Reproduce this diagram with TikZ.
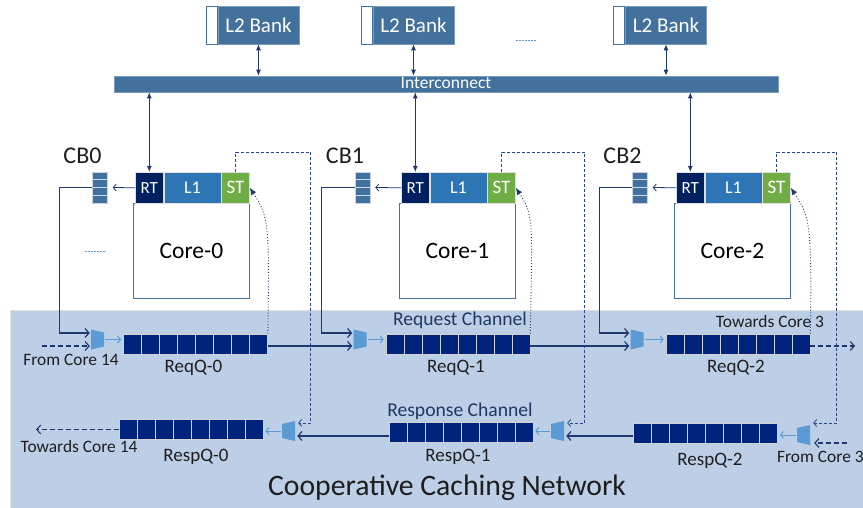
\documentclass[tikz,border=0pt]{standalone}
\usepackage{fontspec}
\setmainfont{Carlito}
\usetikzlibrary{arrows.meta,calc}
\definecolor{bankblue}{RGB}{65,113,156}
\definecolor{rtnavy}{RGB}{0,32,96}
\definecolor{qnavy}{RGB}{0,36,125}
\definecolor{lonecol}{RGB}{46,117,182}
\definecolor{stgreen}{RGB}{112,173,71}
\definecolor{muxblue}{RGB}{91,155,213}
\definecolor{panelc}{RGB}{189,207,231}
\definecolor{linenavy}{RGB}{31,56,110}
\definecolor{dashnavy}{RGB}{40,70,140}
\definecolor{labnavy}{RGB}{31,56,100}
\definecolor{txtc}{RGB}{30,30,30}
\newcommand{\fsz}[1]{\fontsize{#1}{#1}\selectfont}
\begin{document}
\begin{tikzpicture}[x=1pt,y=-1pt,
  bank/.style={rectangle, fill=bankblue, draw=bankblue!70!white, line width=0.6pt, inner sep=0pt, minimum width=81pt, minimum height=38pt, text=white, font=\fsz{21}},
  banktab/.style={rectangle, fill=white, draw=bankblue, line width=0.8pt, inner sep=0pt, minimum width=11pt, minimum height=38pt},
  icbar/.style={rectangle, fill=bankblue, draw=bankblue!70!white, line width=0.6pt, inner sep=0pt, minimum width=664pt, minimum height=16pt, text height=12pt, text depth=3pt, text=white, font=\fsz{17.5}},
  cell/.style={rectangle, draw=white!75!gray, line width=0.6pt, inner sep=0pt, minimum height=31pt, text=white, anchor=north west},
  corebox/.style={rectangle, draw=bankblue, line width=0.8pt, fill=white, inner sep=0pt, minimum width=116pt, minimum height=95pt, anchor=north west, font=\fsz{23.5}},
  cbstack/.style={rectangle, fill=bankblue, draw=white!70!bankblue, line width=0.5pt, inner sep=0pt, minimum width=15pt, minimum height=31pt,
    path picture={\foreach \k in {1,2,3} \draw[white!75!bankblue, line width=0.6pt] ($(path picture bounding box.north west)!\k/4!(path picture bounding box.south west)$) -- ($(path picture bounding box.north east)!\k/4!(path picture bounding box.south east)$);}},
  queue/.style={rectangle, fill=qnavy, draw=white!65!gray, line width=0.6pt, inner sep=0pt, minimum width=144pt, minimum height=20pt,
    path picture={\foreach \k in {1,...,7} \draw[white!65!gray, line width=0.6pt] ($(path picture bounding box.north west)!\k/8!(path picture bounding box.north east)$) -- ($(path picture bounding box.south west)!\k/8!(path picture bounding box.south east)$);}},
  muxl/.style={rectangle, inner sep=0pt, minimum width=13pt, minimum height=20pt,
    path picture={\fill[muxblue] (path picture bounding box.north west) -- ([yshift=-3pt]path picture bounding box.north east) -- ([yshift=3pt]path picture bounding box.south east) -- (path picture bounding box.south west) -- cycle;}},
  muxr/.style={rectangle, inner sep=0pt, minimum width=13pt, minimum height=20pt,
    path picture={\fill[muxblue] ([yshift=-3pt]path picture bounding box.north west) -- (path picture bounding box.north east) -- (path picture bounding box.south east) -- ([yshift=3pt]path picture bounding box.south west) -- cycle;}},
  biarrow/.style={linenavy, line width=0.9pt, {Latex[length=6pt,width=5pt]}-{Latex[length=6pt,width=5pt]}},
  uparrow/.style={linenavy, line width=0.9pt, {Latex[length=6pt,width=5pt]}-{Latex[length=6pt,width=5pt]}},
  thinarrow/.style={linenavy, line width=0.8pt, -{Straight Barb[length=3pt,width=7pt]}},
  solidarrow/.style={linenavy, line width=1.2pt, -{Straight Barb[length=4pt,width=9pt]}},
  lightarrow/.style={muxblue, line width=1pt, -{Straight Barb[length=3pt,width=7pt]}, shorten >=2pt, shorten <=1pt},
  dasharrow/.style={dashnavy, line width=0.8pt, dash pattern=on 3pt off 2pt, -{Straight Barb[length=3pt,width=7pt]}, shorten >=3pt},
  bigdash/.style={linenavy, line width=1.1pt, dash pattern=on 5pt off 3pt, -{Straight Barb[length=4pt,width=9pt]}},
  dotcurve/.style={linenavy, line width=0.9pt, dotted, -{Latex[length=7pt,width=6pt]}},
  qlabel/.style={font=\fsz{19}, text=txtc, inner sep=0pt},
  smlabel/.style={font=\fsz{17.4}, text=txtc, inner sep=0pt},
  chlabel/.style={font=\fsz{19.6}, text=labnavy, inner sep=0pt},
  ellip/.style={muxblue, line width=1pt, dash pattern=on 1.6pt off 1.4pt}
]
\useasboundingbox (0,0) rectangle (863,508);
% panel
\fill[panelc] (10,310) rectangle (863,508);
\draw[white!75!gray, line width=0.8pt] (10,508) -- (10,310) -- (863,310);

% L2 banks and interconnect
\node[bank] (b1) at (258.5,25) {L2 Bank};
\node[bank] (b2) at (413.5,25) {L2 Bank};
\node[bank] (b3) at (666,25) {L2 Bank};
\foreach \b in {1,2,3} \node[banktab, anchor=east] (t\b) at (b\b.west) {};
\coordinate (el1a) at (516,41); \coordinate (el1b) at (537,41);
\draw[ellip] (el1a) -- (el1b);
\node[icbar] (ic) at (446,84) {Interconnect};
\foreach \b in {1,2,3} \draw[biarrow] (b\b.south) -- (b\b.south |- ic.north);

% cores
\foreach \i/\x/\cb in {0/135/100, 1/401/362.5, 2/676/640} {
  \node[corebox] (core\i) at (\x-2,203) {Core-\i};
  \node[cell, fill=rtnavy, minimum width=28pt, font=\fsz{17}] (rt\i) at (\x,172) {RT};
  \node[cell, fill=lonecol, minimum width=57pt, font=\fsz{18}] (l\i) at (rt\i.north east) {L1};
  \node[cell, fill=stgreen, minimum width=28pt, font=\fsz{19}] (st\i) at (l\i.north east) {ST};
  \node[cbstack] (cb\i) at (\cb,187.5) {};
  \node[font=\fsz{24}, text=txtc, inner sep=0pt] (cbl\i) at (\cb-17.5,156) {CB\i};
  \draw[thinarrow] (rt\i.west) -- ([xshift=5pt]cb\i.east);
  \draw[biarrow] (rt\i.north) -- (rt\i.north |- ic.south);
}
\coordinate (el2a) at (85,251); \coordinate (el2b) at (106,251);
\draw[ellip] (el2a) -- (el2b);

% request channel
\foreach \i/\mx/\qx in {0/97.5/195.5, 1/360/458, 2/637/738} {
  \node[muxl] (rm\i) at (\mx,339.5) {};
  \node[queue] (rq\i) at (\qx,344) {};
  \node[qlabel] (lrq\i) at ($(rq\i.south)+(-2,14)$) {ReqQ-\i};
  \draw[lightarrow] (rm\i.east) -- (rm\i.east -| rq\i.west);
  \draw[solidarrow] (cb\i.west) -- ++(-33,0) |- ([yshift=6.5pt,xshift=-1pt]rm\i.west);
  \draw[dotcurve] (rq\i.north east) .. controls +(2,-115) and +(18,28) .. (st\i.east);
}
\draw[solidarrow] ([yshift=-2pt]rq0.east) -- ([yshift=-6.5pt,xshift=-1pt]rm1.west);
\draw[solidarrow] ([yshift=-2pt]rq1.east) -- ([yshift=-6.5pt,xshift=-1pt]rm2.west);
\coordinate (fc14) at (42,346);
\draw[bigdash] (fc14) -- ([yshift=-6.5pt,xshift=-1pt]rm0.west);
\node[smlabel] (lfc14) at (71,360) {From Core 14};
\coordinate (tc3) at (855,346);
\draw[bigdash] ([yshift=-2pt]rq2.east) -- (tc3);
\node[smlabel] (ltc3) at (770,322) {Towards Core 3};
\node[chlabel] (lreq) at (460,320) {Request Channel};

% response channel
\node[muxr] (pm0) at (288.5,431) {};
\node[muxr] (pm1) at (557.5,431) {};
\node[muxr] (pm2) at (803.5,435) {};
\node[queue] (rp0) at (191,429.5) {};
\node[queue] (rp1) at (461,432) {};
\node[queue] (rp2) at (705.5,433) {};
\node[qlabel] (lrp0) at (196,457) {RespQ-0};
\node[qlabel] (lrp1) at (458,457) {RespQ-1};
\node[qlabel] (lrp2) at (710,461) {RespQ-2};
\foreach \i in {0,1,2} \draw[lightarrow] (pm\i.west) -- (pm\i.west -| rp\i.east);
\draw[solidarrow, shorten >=2pt] ([yshift=-4pt]rp1.west) -- ([yshift=-4pt]rp1.west -| pm0.east);
\draw[solidarrow, shorten >=2pt] ([yshift=-3pt]rp2.west) -- ([yshift=-3pt]rp2.west -| pm1.east);
\node[chlabel] (lresp) at (460,411) {Response Channel};
% ST to response muxes
\draw[dasharrow] (st0.north) |- (310,152) |- ([yshift=8pt]pm0.east);
\draw[dasharrow] (st1.north) |- (584,152) |- ([yshift=8pt]pm1.east);
\draw[dasharrow] (st2.north) |- (836,152) |- ([yshift=12pt]pm2.east);
\coordinate (tc14) at (36,429.5);
\draw[bigdash] (rp0.west) -- (tc14);
\node[smlabel] (ltc14) at (79,447) {Towards Core 14};
\coordinate (fc3) at (847,443);
\draw[bigdash, shorten >=4pt] (fc3) -- ([yshift=-8pt]pm2.east);
\node[smlabel, anchor=west] (lfc3) at (777,457) {From Core 3};

\node[font=\fsz{29.7}, text=txtc, inner sep=0pt] (title) at (447,488) {Cooperative Caching Network};
\end{tikzpicture}
\end{document}
